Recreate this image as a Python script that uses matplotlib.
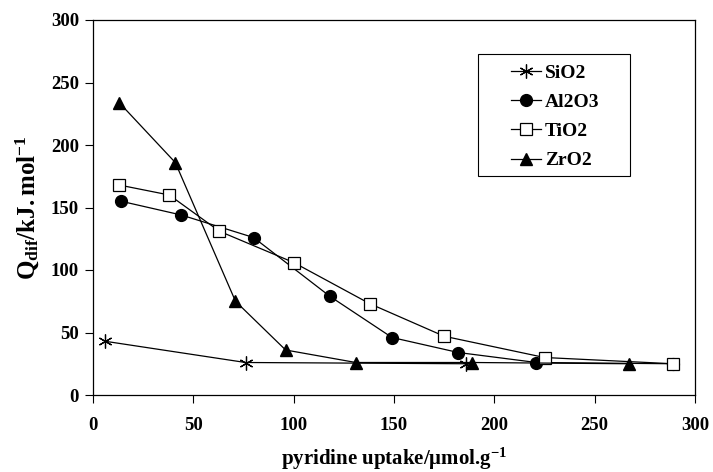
import matplotlib
matplotlib.use("Agg")
import matplotlib.pyplot as plt
from matplotlib.patches import Rectangle

plt.rcParams['font.family'] = ['Liberation Serif', 'DejaVu Serif']
plt.rcParams['font.weight'] = 'bold'
plt.rcParams['mathtext.fontset'] = 'custom'
plt.rcParams['mathtext.rm'] = 'Liberation Serif:bold'
plt.rcParams['mathtext.it'] = 'Liberation Serif:bold'
plt.rcParams['mathtext.bf'] = 'Liberation Serif:bold'

sio2_x = [6, 76, 186]
sio2_y = [43, 26, 25]

al2o3_x = [14, 44, 80, 118, 149, 182, 221, 289]
al2o3_y = [155, 144, 126, 79, 46, 34, 26, 25]

tio2_x = [13, 38, 63, 100, 138, 175, 225, 289]
tio2_y = [168, 160, 131, 106, 73, 47, 30, 25]

zro2_x = [13, 41, 71, 96, 131, 189, 267]
zro2_y = [234, 186, 75, 36, 26, 26, 25]

xticks = [0, 50, 100, 150, 200, 250, 300]
yticks = [0, 50, 100, 150, 200, 250, 300]

W, H = 713, 472
fig = plt.figure(figsize=(W / 100, H / 100), dpi=100)
ax = fig.add_axes([93 / W, (H - 395) / H, 602 / W, 375 / H])

lw = 0.9
ax.plot(sio2_x, sio2_y, color='black', lw=lw, marker=(6, 2, 0), markersize=10,
        markeredgewidth=0.9, label='SiO2')
ax.plot(al2o3_x, al2o3_y, color='black', lw=lw, marker='o', markersize=8.5,
        markerfacecolor='black', label='Al2O3')
ax.plot(tio2_x, tio2_y, color='black', lw=lw, marker='s', markersize=9,
        markerfacecolor='white', markeredgewidth=0.9, label='TiO2')
ax.plot(zro2_x, zro2_y, color='black', lw=lw, marker='^', markersize=9,
        markerfacecolor='black', label='ZrO2')

ax.set_xlim(0, 300)
ax.set_ylim(0, 300)
ax.set_xticks(xticks)
ax.set_yticks(yticks)
ax.tick_params(direction='out', length=6, width=0.8, labelsize=13.5)
ax.tick_params(axis='x', pad=10)
ax.tick_params(axis='y', pad=4)
for lab in ax.get_xticklabels() + ax.get_yticklabels():
    lab.set_fontweight('bold')
for s in ax.spines.values():
    s.set_linewidth(0.9)

ax.set_xlabel('pyridine uptake/μmol.g$^{-1}$', fontsize=15, fontweight='bold', labelpad=8)
ax.set_ylabel(r'$\mathrm{Q_{dif}/kJ.mol^{-1}}$', fontsize=18, labelpad=7)

# legend frame drawn as a rectangle (figure pixels)
fig.patches.append(Rectangle((478 / W, (H - 176) / H), (630 - 478) / W, (176 - 54) / H,
                             transform=fig.transFigure, fill=False,
                             edgecolor='black', linewidth=0.8, zorder=5))
leg = fig.legend(*ax.get_legend_handles_labels(), loc='upper left',
                 bbox_to_anchor=(511 / W, (H - 64) / H),
                 frameon=False, fontsize=14,
                 handlelength=1.55, handletextpad=0.2, borderpad=0,
                 labelspacing=0.6, borderaxespad=0)
for t in leg.get_texts():
    t.set_fontweight('bold')

fig.savefig('out.png', dpi=100)
